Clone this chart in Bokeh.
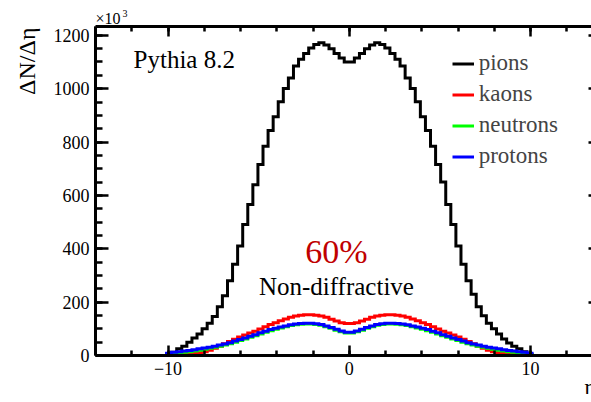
import numpy as np
from bokeh.plotting import figure
from bokeh.models import Range1d, LinearAxis, SingleIntervalTicker, Label, CustomJSTickFormatter
from bokeh.embed import file_html
from bokeh.resources import INLINE

# ---- data (thousands of particles per eta bin) ----
eta_min, eta_max, n_bins = -14.0, 14.0, 100
eta_edges = np.linspace(eta_min, eta_max, n_bins + 1)

pions = [0] * 14 + [
    5, 12, 25, 35, 50, 66, 81, 100, 121, 146, 183, 224, 280, 342, 410, 491, 566, 640,
    716, 784, 843, 895, 951, 1001, 1040, 1085, 1110, 1132, 1152, 1166, 1172, 1164,
    1150, 1132, 1115, 1100, 1100, 1115, 1132, 1150, 1164, 1172, 1166, 1152, 1132,
    1110, 1085, 1040, 1001, 951, 895, 843, 784, 716, 650, 566, 491, 410, 342, 280,
    230, 183, 149, 121, 100, 81, 62, 47, 35, 25, 14, 5] + [0] * 14

kaons = [0] * 14 + [
    2, 3, 4, 5, 6, 8, 10, 14, 20, 27, 35, 44, 52, 61, 69, 77, 84, 91, 99, 108, 116,
    123, 130, 137, 143, 148, 151, 153, 153, 151, 148, 143, 136, 129, 123, 120,
    120, 123, 129, 136, 143, 148, 151, 153, 153, 151, 148, 143, 137, 130, 123, 116,
    108, 99, 91, 84, 77, 69, 61, 52, 44, 35, 27, 20, 14, 10, 8, 6, 5, 4, 3, 2] + [0] * 14

neutrons = [0] * 14 + [
    4, 7, 9, 12, 14, 17, 20, 23, 27, 31, 35, 39, 44, 50, 56, 62, 68, 74, 81, 87, 93,
    98, 103, 108, 112, 115, 117, 118, 118, 116, 113, 108, 102, 95, 89, 84,
    84, 89, 95, 102, 108, 113, 116, 118, 118, 117, 115, 112, 108, 103, 98, 93, 87,
    81, 74, 68, 62, 56, 50, 44, 39, 35, 31, 27, 23, 20, 17, 14, 12, 9, 7, 4] + [0] * 14

protons = [0] * 14 + [
    8, 12, 14, 17, 19, 22, 25, 28, 31, 35, 39, 43, 48, 54, 60, 66, 72, 78, 85, 91, 97,
    102, 107, 111, 115, 118, 120, 121, 121, 119, 116, 111, 105, 98, 92, 87,
    87, 92, 98, 105, 111, 116, 119, 121, 121, 120, 118, 115, 111, 107, 102, 97, 91,
    85, 78, 72, 66, 60, 54, 48, 43, 39, 35, 31, 28, 25, 22, 19, 17, 14, 12, 8] + [0] * 14

series = [("pions", pions, "black"), ("kaons", kaons, "#ff0000"),
          ("neutrons", neutrons, "#00ff00"), ("protons", protons, "#0000ff")]

FONT = "Liberation Serif"
X0, X1, Y1 = -14, 13.36, 1233

p = figure(width=591, height=402, output_backend="svg", toolbar_location=None,
           x_range=Range1d(X0, X1), y_range=Range1d(0, Y1),
           min_border_left=95, min_border_right=0, min_border_top=26, min_border_bottom=47)
p.background_fill_color = "white"
p.border_fill_color = "white"
p.outline_line_color = None
p.xgrid.visible = False
p.ygrid.visible = False

for name, vals, color in series:
    yv = list(vals) + [vals[-1]]
    p.step(x=eta_edges, y=yv, mode="after", line_color=color, line_width=3,
           line_join="miter", legend_label=name)

# axes
p.xaxis.ticker = SingleIntervalTicker(interval=10, num_minor_ticks=5)
p.yaxis.ticker = SingleIntervalTicker(interval=200, num_minor_ticks=4)
p.xaxis.formatter = CustomJSTickFormatter(
    code="return tick < 0 ? '\u2212' + Math.abs(tick) : String(tick);")
for ax, mt, mn in ((p.xaxis[0], 10, 5), (p.yaxis[0], 13, 7)):
    ax.axis_line_width = 3
    ax.axis_line_color = "black"
    ax.major_tick_in = mt
    ax.major_tick_out = 0
    ax.minor_tick_in = mn
    ax.minor_tick_out = 0
    ax.major_tick_line_width = 2.5
    ax.minor_tick_line_width = 2.5
    ax.major_tick_line_color = "black"
    ax.minor_tick_line_color = "black"
    ax.major_label_text_font = FONT
    ax.major_label_text_font_size = "18px"
    ax.major_label_text_color = "black"
p.xaxis.major_label_standoff = 6
p.yaxis.major_label_standoff = 6

blank = CustomJSTickFormatter(code="return '';")
top = LinearAxis(ticker=SingleIntervalTicker(interval=10, num_minor_ticks=5),
                 formatter=blank,
                 major_label_text_font_size="1px", major_label_standoff=0,
                 major_tick_in=10, major_tick_out=0, minor_tick_in=5, minor_tick_out=0,
                 axis_line_width=3, major_tick_line_width=2.5, minor_tick_line_width=2.5)
p.add_layout(top, "above")

right = LinearAxis(ticker=SingleIntervalTicker(interval=200, num_minor_ticks=4),
                   formatter=CustomJSTickFormatter(code="return '';"),
                   major_label_text_font_size="1px", major_label_standoff=0,
                   major_tick_in=3, major_tick_out=0, minor_tick_in=0, minor_tick_out=0,
                   axis_line_color=None, major_tick_line_width=2.5)
p.add_layout(right, "right")

# texts
def lab(place=None, **kw):
    kw.setdefault("text_font", FONT)
    kw.setdefault("text_color", "black")
    kw.setdefault("text_baseline", "middle")
    if place is None:
        p.add_layout(Label(**kw))
    else:
        p.add_layout(Label(**kw), place)

# outside the frame (side panels are not clipped)
lab("above", x=X0, y=Y1, text="\u00d710", text_font_size="16px", y_offset=8)
lab("above", x=X0, y=Y1, text="3", text_font_size="10px", x_offset=27, y_offset=13.3)
lab("left", x=X0, y=Y1, text="\u0394N/\u0394\u03b7", text_font_size="24px", angle=np.pi / 2,
    text_align="right", x_offset=-68.6, y_offset=-1)
lab("below", x=X1, y=0, text="\u03b7", text_font_size="22px", x_offset=-7, y_offset=-31.2)

# inside the frame
lab(x=-11.90, y=1108, text="Pythia 8.2", text_font_size="25px")
lab(x=-0.71, y=390, text="60%", text_font_size="34px", text_align="center",
    text_color="#c00000")
lab(x=-0.71, y=258, text="Non-diffractive", text_font_size="25px", text_align="center")

leg = p.legend[0]
leg.location = (356.7, 183.5)
leg.border_line_color = None
leg.background_fill_alpha = 0
leg.label_text_font = FONT
leg.label_text_font_size = "23px"
leg.label_text_baseline = "middle"
leg.glyph_width = 22
leg.glyph_height = 31
leg.label_height = 31
leg.spacing = 0
leg.padding = 0
leg.margin = 0
leg.label_standoff = 5

open("out.html", "w").write(file_html(p, INLINE))
